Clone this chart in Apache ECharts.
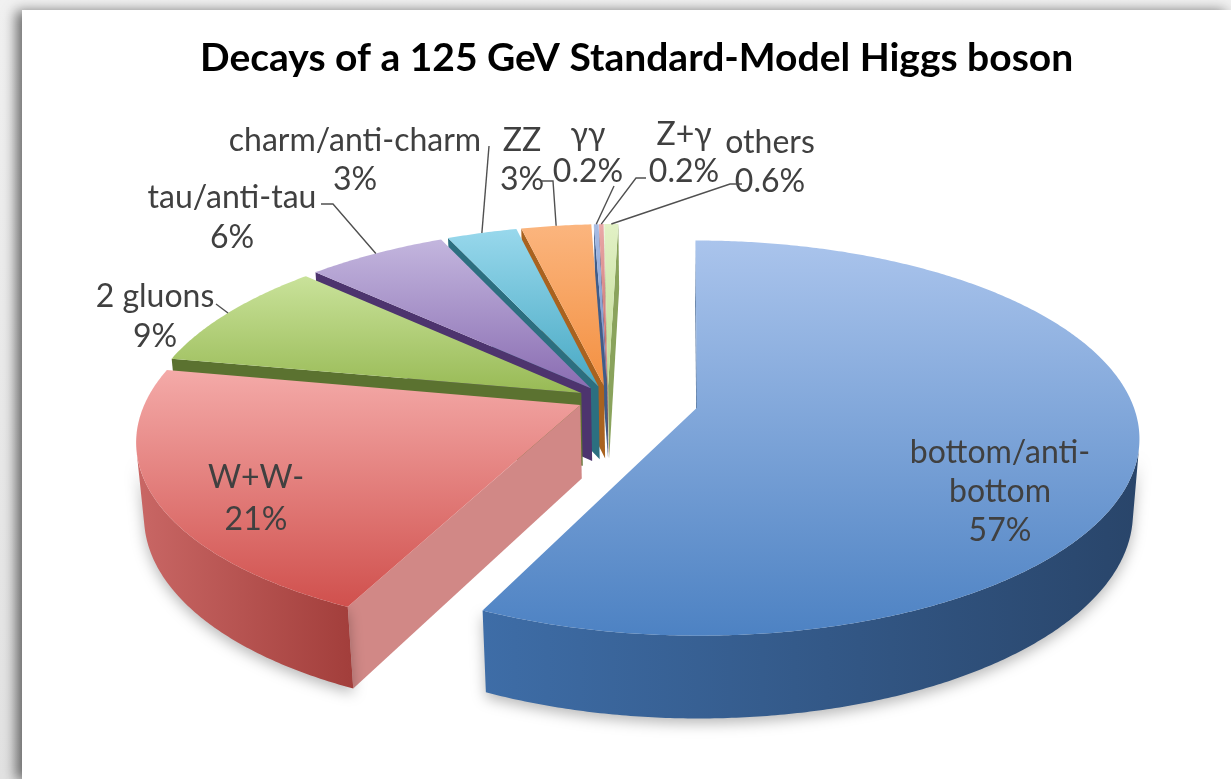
<!DOCTYPE html>
<html>
<head>
<meta charset="utf-8">
<title>Decays of a 125 GeV Standard-Model Higgs boson</title>
<script src="https://cdn.jsdelivr.net/npm/echarts@6/dist/echarts.min.js"></script>
<style>
  html, body { margin: 0; padding: 0; width: 1231px; height: 779px; overflow: hidden; }
  body { background: linear-gradient(#f1f1f1, #e2e2e2); }
  /* white sheet with a soft drop shadow, like the pasted screenshot */
  #sheet { position: absolute; left: 22px; top: 10px; right: 0; bottom: 0; background: #fff;
           box-shadow: -6px 1px 12px rgba(0, 0, 0, 0.55); }
  #main { position: absolute; left: 0; top: 0; width: 1231px; height: 779px; }
</style>
</head>
<body>
<div id="sheet"></div>
<div id="main"></div>
<script>
// decay channels, clockwise from 12 o'clock
const categories = ['bottom/anti-bottom', 'W+W-', '2 gluons', 'tau/anti-tau',
  'charm/anti-charm', 'ZZ', 'γγ', 'Z+γ', 'others'];
// branching ratio in %
const shares = [57, 21, 9, 6, 3, 3, 0.2, 0.2, 0.6];

// ---- look of the 3D pie (Office 2007 colours) ----
const topLight = ['#AAC4EC', '#F4AAA8', '#C9E29A', '#C3B6DE', '#98D8EC', '#FBB57E', '#A8BCE3', '#E9A9A8', '#E2F1C6'];
const topDark  = ['#4D82C3', '#D0504D', '#98BA55', '#8A6DB2', '#48A9C4', '#F39041', '#6F8FC8', '#C2605D', '#C0DA92'];
const cutColor = ['#2E5587', '#D18886', '#5B7230', '#4D346E', '#2C6F80', '#A9621F', '#3F5D8A', '#84393A', '#8AA35C'];
const wallLeft = ['#3E6DA7', '#C96765', '#7D9A45', '#6A5190', '#3B8CA3', '#C87530', '#4F6EA0', '#A04A48', '#9CB56C'];
const wallRight = ['#29456A', '#A23E3B', '#5B7230', '#4D346E', '#2C6F80', '#A9621F', '#3F5D8A', '#84393A', '#8AA35C'];
const explode = [0.21, 0.07, 0.07, 0.07, 0.07, 0.07, 0.07, 0.07, 0.07];

// label block centres, line spacing and the start of each leader line
const labelAt = [[1000, 492], [256, 499], [155, 317], [232, 218], [355, 160], [522, 160], [588, 153], [684, 153], [770, 162]];
const labelLine = [39, 42, 40, 40, 39, 39, 37, 37, 39];
const leaderFrom = [null, null, [[216, 304]], [[321, 204], [333, 204]], [[489, 146]],
  [[541, 181], [553, 181]], [[614, 186]], [[646, 178], [636, 178]], [[742, 184], [730, 184]]];

// camera: perspective view of a disc of radius 1
const VIEW = { ax: 686, ay: 399, px: -0.18, scale: 434, dist: 5.9, elev: 26, thick: 0.19 };
const RAD = Math.PI / 180;
const cosE = Math.cos(VIEW.elev * RAD), sinE = Math.sin(VIEW.elev * RAD);
const FOCAL = VIEW.scale * VIEW.dist;
const CAM = [-VIEW.px, -VIEW.dist * cosE, VIEW.dist * sinE];

function project(X, Y, Z) {
  const w = VIEW.dist + Y * cosE - Z * sinE;
  const up = Y * sinE + Z * cosE;
  return [VIEW.ax + FOCAL * (X + VIEW.px) / w, VIEW.ay - FOCAL * up / w];
}

function sees(P, n) {
  return (CAM[0] - P[0]) * n[0] + (CAM[1] - P[1]) * n[1] + (CAM[2] - P[2]) * n[2] > 0;
}

const total = shares.reduce((a, b) => a + b, 0);
const starts = [];
let acc = 0;
shares.forEach(v => { starts.push(acc / total * 360); acc += v; });

function sliceInfo(i) {
  const span = shares[i] / total * 360;
  const a0 = starts[i] * RAD, a1 = (starts[i] + span) * RAD, am = (a0 + a1) / 2;
  return { span, a0, a1, am, ox: explode[i] * Math.sin(am), oy: explode[i] * Math.cos(am) };
}

// paint back slices first
const order = shares.map((v, i) => {
  const s = sliceInfo(i);
  return { i, depth: s.oy + 0.5 * Math.cos(s.am) };
}).sort((a, b) => b.depth - a.depth).map(d => d.i);

function vgrad(c0, c1) {
  return new echarts.graphic.LinearGradient(0, 0, 0, 1, [{ offset: 0, color: c0 }, { offset: 1, color: c1 }]);
}
function hgrad(c0, c1) {
  return new echarts.graphic.LinearGradient(0, 0, 1, 0, [{ offset: 0, color: c0 }, { offset: 1, color: c1 }]);
}

function renderSlice(params, api) {
  const i = params.dataIndex;
  const value = api.value(0);
  const s = sliceInfo(i);
  const T = VIEW.thick;
  const base = order.indexOf(i) * 10;
  const rim = (a, z) => project(s.ox + Math.sin(a), s.oy + Math.cos(a), z);
  const steps = Math.max(2, Math.ceil(s.span / 0.5));
  const angles = [];
  for (let k = 0; k <= steps; k++) angles.push(s.a0 + (s.a1 - s.a0) * k / steps);
  const apexTop = project(s.ox, s.oy, 0), apexBot = project(s.ox, s.oy, -T);
  const mid = [s.ox, s.oy, -T / 2];
  const children = [];

  // cut faces along the two radii
  if (sees(mid, [-Math.cos(s.a0), Math.sin(s.a0), 0])) {
    children.push({ type: 'polygon', z2: base + 1,
      shape: { points: [apexTop, rim(s.a0, 0), rim(s.a0, -T), apexBot] },
      style: { fill: cutColor[i] } });
  }
  if (sees(mid, [Math.cos(s.a1), -Math.sin(s.a1), 0])) {
    children.push({ type: 'polygon', z2: base + 1,
      shape: { points: [apexTop, rim(s.a1, 0), rim(s.a1, -T), apexBot] },
      style: { fill: cutColor[i] } });
  }

  // outer curved wall, only the part facing the viewer
  let run = null;
  const pushWall = (k0, k1) => {
    const pts = [];
    for (let k = k0; k <= k1 + 1; k++) pts.push(rim(angles[k], 0));
    for (let k = k1 + 1; k >= k0; k--) pts.push(rim(angles[k], -T));
    children.push({ type: 'polygon', z2: base + 2, shape: { points: pts },
      style: { fill: hgrad(wallLeft[i], wallRight[i]), shadowBlur: 14,
        shadowColor: 'rgba(0,0,0,0.28)', shadowOffsetY: 5 } });
  };
  for (let k = 0; k < steps; k++) {
    const a = (angles[k] + angles[k + 1]) / 2;
    const vis = sees([s.ox + Math.sin(a), s.oy + Math.cos(a), -T / 2], [Math.sin(a), Math.cos(a), 0]);
    if (vis) { if (!run) run = [k, k]; else run[1] = k; }
    if (run && (!vis || k === steps - 1)) { pushWall(run[0], run[1]); run = null; }
  }

  // top face
  children.push({ type: 'polygon', z2: base + 3,
    shape: { points: [apexTop].concat(angles.map(a => rim(a, 0))) },
    style: { fill: vgrad(topLight[i], topDark[i]) } });

  // label and leader line
  let name = categories[i];
  if (i === 0) name = name.replace('anti-', 'anti-\n');
  children.push({ type: 'text', x: labelAt[i][0], y: labelAt[i][1], z2: 1000,
    style: { text: name + '\n' + value + '%', fill: '#404040', fontSize: 32,
      fontFamily: 'Lato, "Noto Sans", sans-serif', align: 'center', verticalAlign: 'middle',
      lineHeight: labelLine[i] } });
  if (leaderFrom[i]) {
    children.push({ type: 'polyline', z2: 1000,
      shape: { points: leaderFrom[i].concat([rim(s.am, 0)]) },
      style: { stroke: '#505050', lineWidth: 1.4, fill: null } });
  }
  return { type: 'group', children };
}

const chart = echarts.init(document.getElementById('main'));
chart.setOption({
  animation: false,
  title: {
    text: 'Decays of a 125 GeV Standard-Model Higgs boson',
    left: 200,
    top: 39,
    padding: 0,
    textStyle: { fontFamily: 'Lato, "Noto Sans", sans-serif', fontWeight: 'bold', fontSize: 39, color: '#000' }
  },
  series: [{
    type: 'custom',
    coordinateSystem: 'none',
    silent: true,
    renderItem: renderSlice,
    data: shares.map((v, i) => ({ name: categories[i], value: v }))
  }]
});
</script>
</body>
</html>
